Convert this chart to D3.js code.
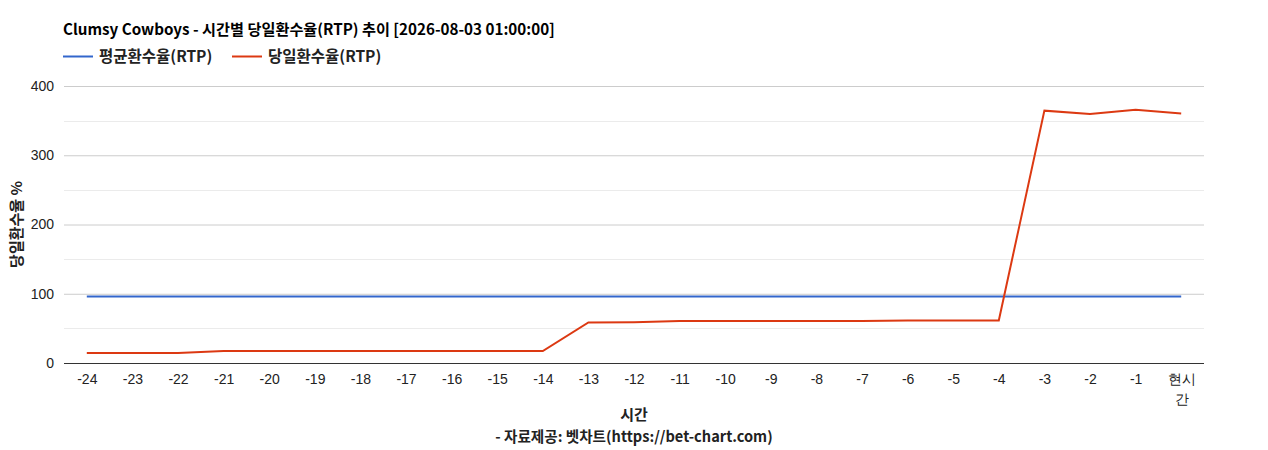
<!DOCTYPE html>
<html>
<head>
<meta charset="utf-8">
<script src="https://cdn.jsdelivr.net/npm/d3@7"></script>
<style>
  body { margin: 0; background: #fff; }
  svg { display: block; }
</style>
</head>
<body>
<script>
const hours = ["-24","-23","-22","-21","-20","-19","-18","-17","-16","-15","-14","-13","-12",
  "-11","-10","-9","-8","-7","-6","-5","-4","-3","-2","-1","현시간"];
const avgRtp = [96,96,96,96,96,96,96,96,96,96,96,96,96,96,96,96,96,96,96,96,96,96,96,96,96];
const dayRtp = [14.4,14.4,14.5,17.3,17.3,17.3,17.3,17.3,17.3,17.3,17.3,58.5,59,60.6,60.6,60.6,
  60.6,60.6,61.4,61.4,61.4,364.4,359.6,365.8,360.2];
const yTicks = [0,100,200,300,400];
const minorTicks = [50,150,250,350];
const seriesNames = ["평균환수율(RTP)", "당일환수율(RTP)"];
const colors = ["#3366cc", "#dc3912"];

const w = 1268, h = 450;
const plotL = 64, plotR = 1204, plotT = 86, plotB = 363;
const kr = "'Noto Sans CJK KR', sans-serif";
const tickFont = "'Liberation Sans', Arial, sans-serif";

const svg = d3.select("body").append("svg")
  .attr("width", w).attr("height", h);

const x = d3.scalePoint().domain(hours).range([plotL, plotR]).padding(0.5);
const y = d3.scaleLinear().domain([0, 400]).range([plotB, plotT]);

// minor gridlines
svg.append("g").selectAll("line").data(minorTicks).enter().append("line")
  .attr("x1", plotL).attr("x2", plotR)
  .attr("y1", d => Math.round(y(d)) + 0.5).attr("y2", d => Math.round(y(d)) + 0.5)
  .attr("stroke", "#ebebeb").attr("stroke-width", 1);

const yAxis = svg.append("g")
  .attr("transform", `translate(${plotL},0)`)
  .call(d3.axisLeft(y).tickValues(yTicks).tickSize(-(plotR - plotL)).tickPadding(10));
yAxis.select(".domain").remove();
yAxis.selectAll(".tick line").attr("stroke", "#cccccc");
yAxis.selectAll(".tick text")
  .style("font-family", tickFont).style("font-size", "14px").attr("fill", "#222");

// lines
const line = d3.line().x((d, i) => x(hours[i])).y(d => y(d));
[avgRtp, dayRtp].forEach((s, k) => {
  svg.append("path").datum(s)
    .attr("fill", "none")
    .attr("stroke", colors[k])
    .attr("stroke-width", 2)
    .attr("d", line);
});

// x axis
const xAxis = svg.append("g")
  .attr("transform", `translate(0,${plotB})`)
  .call(d3.axisBottom(x).tickSize(0).tickPadding(11));
xAxis.select(".domain").attr("stroke", "#333").attr("stroke-width", 1)
  .attr("d", `M${plotL},0.5H${plotR}`);
xAxis.selectAll(".tick text")
  .style("font-family", tickFont).style("font-size", "14px").attr("fill", "#222")
  .each(function(d) {
    if (d.length > 2 && isNaN(+d)) {
      // long label wraps onto two lines
      const t = d3.select(this);
      t.text(null);
      t.append("tspan").attr("x", 0).attr("dy", "0.71em").text(d.slice(0, 2));
      t.append("tspan").attr("x", 0).attr("dy", "1.45em").text(d.slice(2));
      t.attr("dy", null);
    }
  });

// title
svg.append("text")
  .attr("x", 63).attr("y", 35)
  .attr("font-family", kr).attr("font-size", 15.2).attr("font-weight", "bold")
  .attr("fill", "#000")
  .text("Clumsy Cowboys - 시간별 당일환수율(RTP) 추이 [2026-08-03 01:00:00]");

// legend
const legendX = [63, 232];
seriesNames.forEach((n, k) => {
  const g = svg.append("g").attr("transform", `translate(${legendX[k]},56.5)`);
  g.append("line").attr("x1", 0).attr("x2", 30)
    .attr("y1", 0).attr("y2", 0)
    .attr("stroke", colors[k]).attr("stroke-width", 2);
  g.append("text").attr("x", 36).attr("y", 5.5)
    .attr("font-family", kr).attr("font-size", 15.5).attr("font-weight", "bold")
    .attr("fill", "#222").text(n);
});

// axis titles
svg.append("text")
  .attr("transform", `translate(22,${(plotT + plotB) / 2}) rotate(-90)`)
  .attr("text-anchor", "middle")
  .attr("font-family", kr).attr("font-size", 15).attr("font-weight", "bold")
  .attr("fill", "#222").text("당일환수율 %");

svg.append("text")
  .attr("x", (plotL + plotR) / 2).attr("y", 420)
  .attr("text-anchor", "middle")
  .attr("font-family", kr).attr("font-size", 15).attr("font-weight", "bold")
  .attr("fill", "#222").text("시간");

svg.append("text")
  .attr("x", (plotL + plotR) / 2).attr("y", 442)
  .attr("text-anchor", "middle")
  .attr("font-family", kr).attr("font-size", 14.6).attr("font-weight", "bold")
  .attr("fill", "#222").text("- 자료제공: 벳차트(https://bet-chart.com)");
</script>
</body>
</html>
